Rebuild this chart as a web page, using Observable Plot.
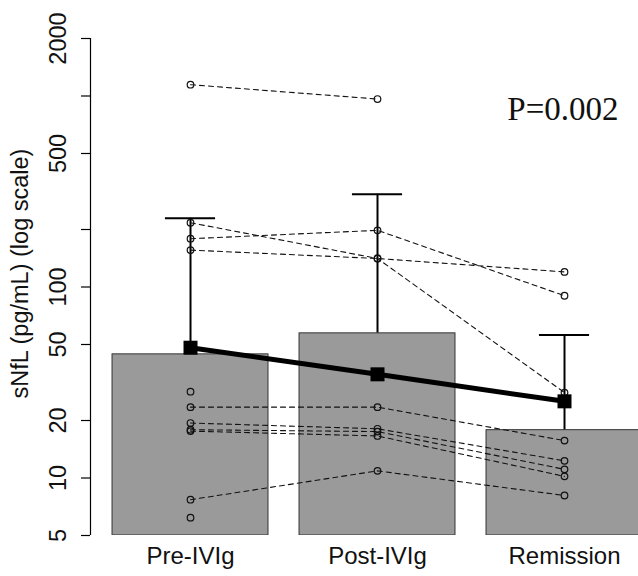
<!DOCTYPE html>
<html>
<head>
<meta charset="utf-8">
<script src="https://cdn.jsdelivr.net/npm/d3@7"></script>
<script src="https://cdn.jsdelivr.net/npm/@observablehq/plot@0.6"></script>
<style>
  html, body { margin: 0; padding: 0; background: #fff; }
  #chart svg { display: block; }
</style>
</head>
<body>
<div id="chart"></div>
<script>
// ---- data ----
const stages = ["Pre-IVIg", "Post-IVIg", "Remission"];
const barValues = [44.4, 57.2, 17.8];      // bar heights (pg/mL)
const meanValues = [48.1, 34.9, 25.2];     // black squares
const errUpper = [229, 306, 56];           // upper error bar caps
// individual patients (null = not measured)
const preValues  = [1146, 217, 156, 179, 28.3, 23.5, 19.4, 17.9, 17.6, 7.7, 6.2];
const postValues = [964, 141, 141, 198, null, 23.5, 18.1, 17.5, 16.6, 10.9, null];
const remValues  = [null, 28, 120, 90, null, 15.7, 12.3, 11.1, 10.2, 8.1, null];
const yTicks = [5, 10, 20, 50, 100, 200, 500, 1000, 2000];
const yTickLabels = [5, 10, 20, 50, 100, 500, 2000];
const yTitle = "sNfL (pg/mL) (log scale)";
const pLabel = "P=0.002";

// ---- derived tables ----
const summary = stages.map((s, i) => ({
  i, stage: s, bar: barValues[i], mean: meanValues[i], hi: errUpper[i]
}));
const points = [];
[preValues, postValues, remValues].forEach((vals, i) => {
  vals.forEach((v, p) => { if (v != null) points.push({patient: p, i, value: v}); });
});

const halfBar = 0.417;
const halfCap = 0.134;
const xDomain = [-0.5348, 2.3957];

const chart = Plot.plot({
  width: 638,
  height: 576,
  marginLeft: 90,
  marginRight: 0,
  marginTop: 38,
  marginBottom: 41,
  style: {fontFamily: "'Liberation Sans', Arial, sans-serif", background: "#fff"},
  x: {type: "linear", domain: xDomain, axis: null},
  y: {type: "log", domain: [5, 2000], axis: null},
  marks: [
    // error bars (drawn first, bars cover their lower part)
    Plot.ruleX(summary, {x: "i", y1: "bar", y2: "hi", stroke: "#000", strokeWidth: 2}),
    Plot.ruleY(summary, {y: "hi", x1: d => d.i - halfCap, x2: d => d.i + halfCap, stroke: "#000", strokeWidth: 2}),
    // bars
    Plot.rect(summary, {
      x1: d => d.i - halfBar, x2: d => d.i + halfBar, y1: yTicks[0], y2: "bar",
      fill: "#9a9a9a", stroke: "#333", strokeWidth: 1, clip: true
    }),
    // individual patient trajectories
    Plot.line(points, {x: "i", y: "value", z: "patient", stroke: "#111", strokeWidth: 1.1, strokeDasharray: "5,4"}),
    Plot.dot(points, {x: "i", y: "value", r: 3.3, stroke: "#111", strokeWidth: 1.2, fill: "none"}),
    // mean line and squares
    Plot.line(summary, {x: "i", y: "mean", stroke: "#000", strokeWidth: 5}),
    Plot.dot(summary, {x: "i", y: "mean", symbol: "square", r: 7.9, fill: "#000"}),
    // y axis
    Plot.ruleX([xDomain[0]], {y1: yTicks[0], y2: yTicks[yTicks.length - 1], stroke: "#000", strokeWidth: 1.2}),
    Plot.axisY({ticks: yTicks, tickSize: 9, tickFormat: () => "", stroke: "#000", strokeWidth: 1.2}),
    Plot.text(yTickLabels, {y: d => d, text: d => String(d), frameAnchor: "left", textAnchor: "middle",
      dx: -32, rotate: -90, fontSize: 23.5, fill: "#111"}),
    Plot.text([yTitle], {frameAnchor: "left", textAnchor: "middle", dx: -70.5, dy: -13.5, rotate: -90,
      fontSize: 23.5, fill: "#111"}),
    // x labels
    Plot.text(summary, {x: "i", text: "stage", frameAnchor: "bottom", dy: 28, fontSize: 24, fill: "#111"}),
    // p value
    Plot.text([pLabel], {frameAnchor: "top-right", dx: -20, dy: 58.5, textAnchor: "end", fontSize: 33,
      fontFamily: "'Liberation Serif', 'Times New Roman', serif", fill: "#111"})
  ]
});
document.getElementById("chart").appendChild(chart);
</script>
</body>
</html>
